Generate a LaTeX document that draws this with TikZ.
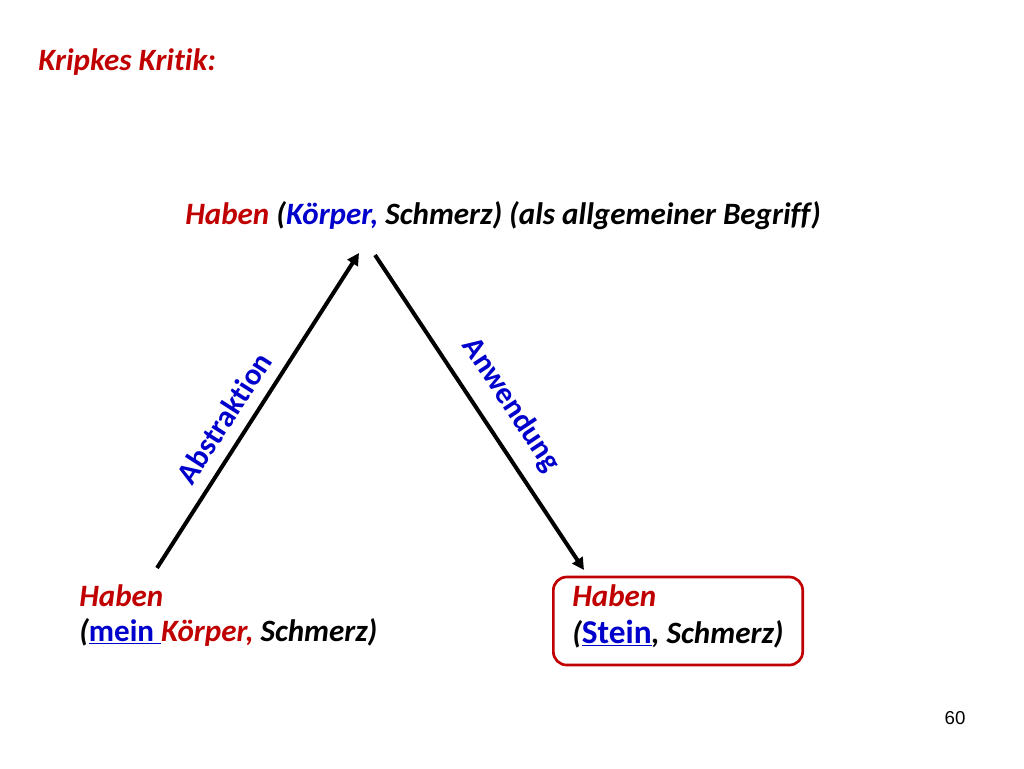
\documentclass[tikz,border=0pt]{standalone}
\usepackage{fontspec}
\setmainfont{Carlito}[Ligatures={NoCommon}]
\setsansfont{Liberation Sans}
\usetikzlibrary{arrows.meta}
\definecolor{dred}{HTML}{C00000}
\definecolor{dblue}{HTML}{0000CC}
\begin{document}
\begin{tikzpicture}[x=0.75pt,y=-0.75pt,
  txt/.style={anchor=west,inner sep=0pt,font=\bfseries\itshape\fontsize{23.3}{26}\selectfont},
  arr/.style={line width=3pt,-{Triangle[length=9pt,width=9pt]}},
  lab/.style={inner sep=0pt,text=dblue,font=\bfseries\fontsize{23}{26}\selectfont}]
\useasboundingbox (0,0) rectangle (1024,768);
\node[txt,text=dred] (kk) at (38,62) {Kripkes Kritik:};
\node[txt] (top) at (185,216) {\textcolor{dred}{Haben} (\textcolor{dblue}{Körper,} Schmerz) (als allgemeiner Begriff)};
\coordinate (a1s) at (157,568); \coordinate (a1e) at (359,253);
\coordinate (a2s) at (375,255); \coordinate (a2e) at (584,570);
\draw[arr] (a1s) -- (a1e);
\draw[arr] (a2s) -- (a2e);
\node[lab,rotate=57.3] (abs) at (224,418) {Abstraktion};
\node[lab,rotate=-56.4] (anw) at (511,405) {Anwendung};
\node[txt,text=dred] (h1) at (79,596) {Haben};
\node[txt] (l1) at (79,632) {(\textcolor{dblue}{\upshape\underline{mein }}\textcolor{dred}{Körper,} Schmerz)};
\node[draw=dred,line width=2pt,rounded corners=10pt,minimum width=187pt,minimum height=66pt] (box) at (678,621) {};
\node[txt,text=dred] (h2) at (572,596) {Haben};
\node[txt] (l2) at (572,634) {(\textcolor{dblue}{\upshape\fontsize{25}{26}\selectfont\underline{Stein}}, Schmerz)};
\node[inner sep=0pt,font=\sffamily\fontsize{14}{16}\selectfont] (pg) at (955,718) {60};
\end{tikzpicture}
\end{document}
